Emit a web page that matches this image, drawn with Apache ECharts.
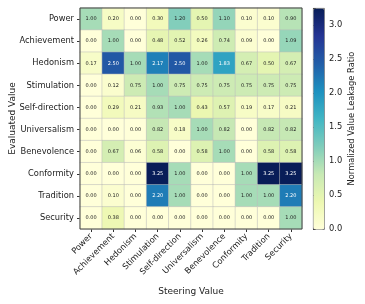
<!DOCTYPE html>
<html>
<head>
<meta charset="utf-8">
<script src="https://cdn.jsdelivr.net/npm/echarts@6/dist/echarts.min.js"></script>
<style>html,body{margin:0;padding:0;background:#fff}#c{width:365px;height:304px}</style>
</head>
<body>
<div id="c"></div>
<script>
const steering = ["Power","Achievement","Hedonism","Stimulation","Self-direction","Universalism","Benevolence","Conformity","Tradition","Security"];
const evaluated = ["Power","Achievement","Hedonism","Stimulation","Self-direction","Universalism","Benevolence","Conformity","Tradition","Security"];
const rowPower         = [1.00,0.20,0.00,0.30,1.20,0.50,1.10,0.10,0.10,0.90];
const rowAchievement   = [0.00,1.00,0.00,0.48,0.52,0.26,0.74,0.09,0.00,1.09];
const rowHedonism      = [0.17,2.50,1.00,2.17,2.50,1.00,1.83,0.67,0.50,0.67];
const rowStimulation   = [0.00,0.12,0.75,1.00,0.75,0.75,0.75,0.75,0.75,0.75];
const rowSelfDirection = [0.00,0.29,0.21,0.93,1.00,0.43,0.57,0.19,0.17,0.21];
const rowUniversalism  = [0.00,0.00,0.00,0.82,0.18,1.00,0.82,0.00,0.82,0.82];
const rowBenevolence   = [0.00,0.67,0.06,0.58,0.00,0.58,1.00,0.00,0.58,0.58];
const rowConformity    = [0.00,0.00,0.00,3.25,1.00,0.00,0.00,1.00,3.25,3.25];
const rowTradition     = [0.00,0.10,0.00,2.20,1.00,0.00,0.00,1.00,1.00,2.20];
const rowSecurity      = [0.00,0.38,0.00,0.00,0.00,0.00,0.00,0.00,0.00,1.00];
const rows = [rowPower,rowAchievement,rowHedonism,rowStimulation,rowSelfDirection,rowUniversalism,rowBenevolence,rowConformity,rowTradition,rowSecurity];
const colorbarTicks = [0.0,0.5,1.0,1.5,2.0,2.5,3.0];
const vMin = 0, vMax = 3.25;

const data = [];
rows.forEach((r, yi) => r.forEach((v, xi) => {
  data.push({value: [xi, yi, v], label: {color: v > 1.6 ? '#fff' : '#222'}});
}));

const ylgnbu = ['#ffffd9','#edf8b1','#c7e9b4','#7fcdbb','#41b6c4','#1d91c0','#225ea8','#253494','#081d58'];
const font = 'DejaVu Sans';
const chart = echarts.init(document.getElementById('c'), null, {renderer: 'canvas'});
chart.setOption({
  animation: false,
  textStyle: {fontFamily: font},
  grid: [
    {left: 80, top: 8, width: 222, height: 221, show: true, borderColor: '#444', borderWidth: 1, backgroundColor: 'transparent', z: 5},
    {left: 313, top: 8, width: 11, height: 221, show: false}
  ],
  xAxis: [
    {type: 'category', data: steering, gridIndex: 0, position: 'bottom',
     axisLine: {show: false}, axisTick: {show: true, length: 3, alignWithLabel: true, lineStyle: {color: '#333'}},
     axisLabel: {rotate: 45, fontSize: 8.3, color: '#222', margin: 6, interval: 0, fontFamily: font},
     name: 'Steering Value', nameLocation: 'middle', nameGap: 58, nameMoveOverlap: false,
     nameTextStyle: {fontSize: 9, color: '#222', fontFamily: font},
     splitLine: {show: false}},
    {type: 'value', gridIndex: 1, show: false, min: 0, max: 1}
  ],
  yAxis: [
    {type: 'category', data: evaluated, gridIndex: 0, inverse: true,
     axisLine: {show: false}, axisTick: {show: true, length: 3, alignWithLabel: true, lineStyle: {color: '#333'}},
     axisLabel: {fontSize: 8.3, color: '#222', margin: 6, interval: 0, fontFamily: font},
     name: 'Evaluated Value', nameLocation: 'middle', nameGap: 63, nameRotate: 90, nameMoveOverlap: false,
     nameTextStyle: {fontSize: 9, color: '#222', fontFamily: font},
     splitLine: {show: false}},
    {type: 'value', gridIndex: 1, position: 'right', min: vMin, max: vMax, interval: 0.5,
     axisLine: {show: false}, axisTick: {show: true, length: 3, lineStyle: {color: '#333'}},
     axisLabel: {fontSize: 8.3, color: '#222', margin: 5, fontFamily: font,
       formatter: v => colorbarTicks.indexOf(v) >= 0 ? v.toFixed(1) : ''},
     splitLine: {show: false},
     name: 'Normalized Value Leakage Ratio', nameLocation: 'middle', nameGap: 24, nameRotate: 90, nameMoveOverlap: false,
     nameTextStyle: {fontSize: 8.3, color: '#222', fontFamily: font}}
  ],
  visualMap: {
    type: 'continuous', min: vMin, max: vMax, seriesIndex: 0, calculable: false,
    left: 313, top: 8, itemWidth: 11, itemHeight: 221, padding: 0, text: ['', ''], showLabel: false,
    inRange: {color: ylgnbu}, borderColor: '#555', borderWidth: 0.8, hoverLink: false
  },
  series: [{
    type: 'heatmap', xAxisIndex: 0, yAxisIndex: 0, data: data,
    itemStyle: {borderColor: '#bbb', borderWidth: 0.5},
    label: {show: true, fontSize: 5, fontFamily: font, formatter: p => p.value[2].toFixed(2)}
  }]
});
</script>
</body>
</html>
